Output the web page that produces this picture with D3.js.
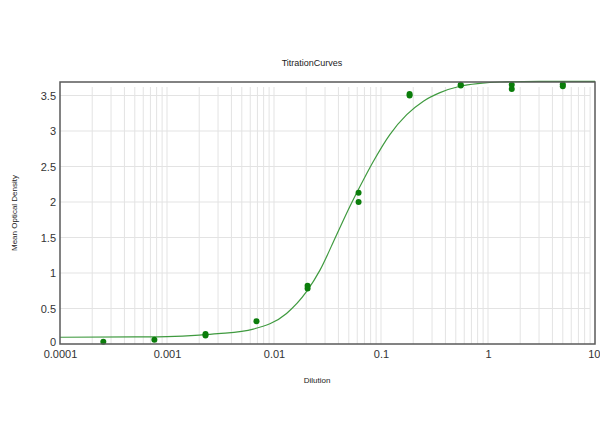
<!DOCTYPE html>
<html>
<head>
<meta charset="utf-8">
<script src="https://cdn.jsdelivr.net/npm/d3@7"></script>
<style>
  body { margin: 0; background: #fff; }
  svg { display: block; font-family: "Liberation Sans", Arial, sans-serif; }
</style>
</head>
<body>
<svg id="chart" width="600" height="447"></svg>
<script>
// measured points (dilution, OD), duplicates per dilution
var dilutions = [5, 5, 1.667, 1.667, 0.556, 0.556, 0.185, 0.185, 0.0617, 0.0617,
                 0.0206, 0.0206, 0.00686, 0.00229, 0.00229, 0.000762, 0.000254];
var odValues  = [3.66, 3.63, 3.65, 3.59, 3.65, 3.64, 3.52, 3.50, 2.13, 2.00,
                 0.82, 0.78, 0.32, 0.14, 0.12, 0.06, 0.03];

// fitted curve
var curveX = [0.0001, 0.0005, 0.001, 0.002, 0.003, 0.0064, 0.0131, 0.0202, 0.0269, 0.0385,
              0.0513, 0.0684, 0.0847, 0.121, 0.174, 0.249, 0.356, 0.547, 0.841, 1.29, 3, 10];
var curveY = [0.095, 0.10, 0.105, 0.125, 0.145, 0.21, 0.43, 0.74, 1.04, 1.54,
              1.94, 2.31, 2.57, 2.95, 3.23, 3.42, 3.54, 3.63, 3.67, 3.69, 3.70, 3.70];

var xTicks = [0.0001, 0.001, 0.01, 0.1, 1, 10];
var xTickLabels = ["0.0001", "0.001", "0.01", "0.1", "1", "10"];
var yTicks = [0, 0.5, 1, 1.5, 2, 2.5, 3, 3.5];

var svg = d3.select("#chart"),
    m = {top: 82, right: 5, bottom: 103, left: 60},
    w = 600 - m.left - m.right,
    h = 447 - m.top - m.bottom;

var x = d3.scaleLog().domain([0.0001, 10]).range([0, w]),
    y = d3.scaleLinear().domain([0, 3.69]).range([h, 0]);

var g = svg.append("g").attr("transform", "translate(" + m.left + "," + m.top + ")");

// vertical grid on every log tick
var minor = x.ticks().filter(function (d) { return d > 0.0001 && d < 10; });
g.append("g").selectAll("line").data(minor).enter().append("line")
    .attr("x1", function (d) { return x(d); }).attr("x2", function (d) { return x(d); })
    .attr("y1", 5).attr("y2", h)
    .attr("stroke", "#e3e3e3").attr("stroke-width", 1);

// horizontal grid
g.append("g").selectAll("line").data(yTicks.filter(function (d) { return d > 0; })).enter().append("line")
    .attr("x1", 0).attr("x2", w - 5)
    .attr("y1", function (d) { return y(d); }).attr("y2", function (d) { return y(d); })
    .attr("stroke", "#e3e3e3").attr("stroke-width", 1);

// curve
var line = d3.line()
    .x(function (d) { return x(d[0]); })
    .y(function (d) { return y(d[1]); })
    .curve(d3.curveMonotoneX);
g.append("path")
    .datum(d3.zip(curveX, curveY))
    .attr("d", line)
    .attr("fill", "none")
    .attr("stroke", "#3f9a3f")
    .attr("stroke-width", 1.2);

// points
g.append("g").selectAll("circle").data(d3.zip(dilutions, odValues)).enter().append("circle")
    .attr("cx", function (d) { return x(d[0]); })
    .attr("cy", function (d) { return y(d[1]); })
    .attr("r", 3)
    .attr("fill", "#0b7d0b");

// frame
g.append("rect").attr("x", 0).attr("y", 0).attr("width", w).attr("height", h)
    .attr("fill", "none").attr("stroke", "#5a5a5a").attr("stroke-width", 1.5);

// axes
var xAxis = d3.axisBottom(x).tickValues(xTicks)
    .tickFormat(function (d, i) { return xTickLabels[i]; }).tickSize(0).tickPadding(6);
var gx = g.append("g").attr("transform", "translate(0," + h + ")").call(xAxis);
gx.select(".domain").remove();
gx.selectAll("text").attr("font-size", 11).attr("fill", "#333").attr("font-family", "Liberation Sans, Arial, sans-serif");
gx.selectAll(".tick:last-of-type text").attr("text-anchor", "end").attr("dx", 5);

var yAxis = d3.axisLeft(y).tickValues(yTicks).tickFormat(d3.format("~g")).tickSize(0).tickPadding(4);
var gy = g.append("g").call(yAxis);
gy.select(".domain").remove();
gy.selectAll("text").attr("font-size", 11).attr("fill", "#333").attr("font-family", "Liberation Sans, Arial, sans-serif");
gy.selectAll(".tick:first-of-type text").attr("dy", "0.1em");

// titles
svg.append("text").attr("x", 312).attr("y", 66).attr("text-anchor", "middle")
    .attr("font-size", 9).attr("fill", "#222").text("TitrationCurves");
svg.append("text").attr("x", 317).attr("y", 383).attr("text-anchor", "middle")
    .attr("font-size", 8).attr("fill", "#222").text("Dilution");
svg.append("text").attr("transform", "translate(17,213) rotate(-90)").attr("text-anchor", "middle")
    .attr("font-size", 8).attr("fill", "#222").text("Mean Optical Density");
</script>
</body>
</html>
